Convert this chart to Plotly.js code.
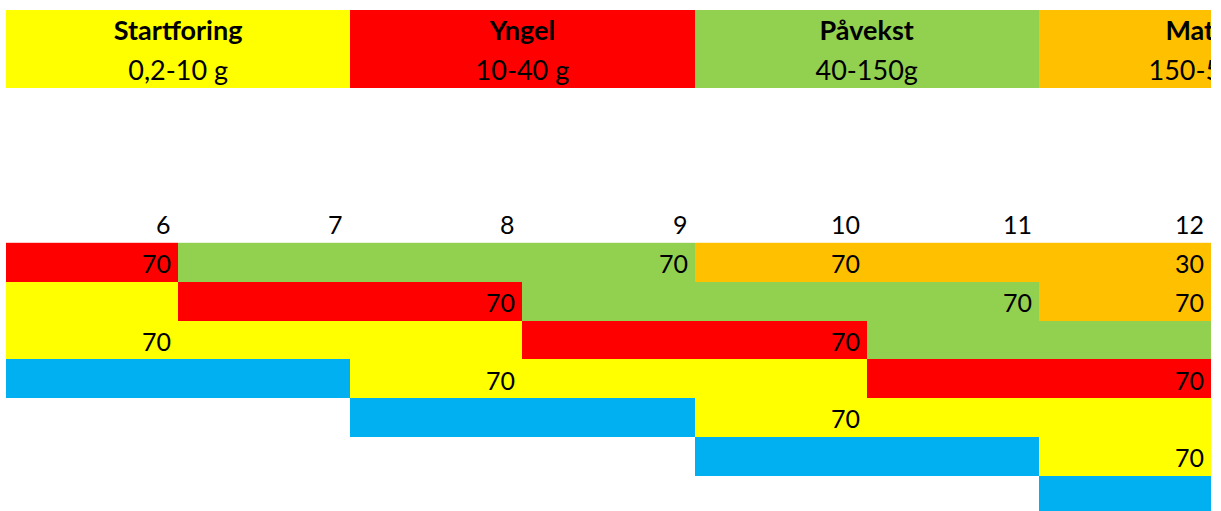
<!DOCTYPE html>
<html><head><meta charset="utf-8">
<script src="https://cdn.plot.ly/plotly-3.0.1.min.js"></script>
<style>html,body{margin:0;padding:0;background:#fff}#chart{width:1221px;height:511px}</style>
</head><body><div id="chart"></div>
<script>
// ---- data ----
const weeks = [6, 7, 8, 9, 10, 11, 12];
const phaseNames = ['Startforing', 'Yngel', 'Påvekst', 'Matfisk'];
const phaseWeights = ['0,2-10 g', '10-40 g', '40-150g', '150-500 g'];
const phaseKeys = ['S', 'Y', 'P', 'M'];
// phase per week in each row ('' = empty, 'E' = blue stage before start feeding)
const gridRow1 = ['Y', 'P', 'P', 'P', 'M', 'M', 'M'];
const gridRow2 = ['S', 'Y', 'Y', 'P', 'P', 'P', 'M'];
const gridRow3 = ['S', 'S', 'S', 'Y', 'Y', 'P', 'P'];
const gridRow4 = ['E', 'E', 'S', 'S', 'S', 'Y', 'Y'];
const gridRow5 = ['', '', 'E', 'E', 'S', 'S', 'S'];
const gridRow6 = ['', '', '', '', 'E', 'E', 'S'];
const gridRow7 = ['', '', '', '', '', '', 'E'];
const valueRow1 = [70, null, null, 70, 70, null, 30];
const valueRow2 = [null, null, 70, null, null, 70, 70];
const valueRow3 = [70, null, null, null, 70, null, null];
const valueRow4 = [null, null, 70, null, null, null, 70];
const valueRow5 = [null, null, null, null, 70, null, null];
const valueRow6 = [null, null, null, null, null, null, 70];
const valueRow7 = [null, null, null, null, null, null, null];

// ---- styles / layout constants ----
const codeOf = {S: 1, Y: 2, P: 3, M: 4, E: 5};
const codeColors = ['#FFFF00', '#FF0000', '#92D050', '#FFC000', '#00B0F0'];
const FONT = 'Lato, "Open Sans", sans-serif';
const ROW_PX = 38.8, TOP_PX = 10, H = 511;
const GRID_TOP = 6;      // sheet row where the grid starts
const WEEK_ROW = 5.5;    // sheet row centre of week numbers
const headerEdges = [0, 2, 4, 6, 8];

const gridRows = [gridRow1, gridRow2, gridRow3, gridRow4, gridRow5, gridRow6, gridRow7];
const valueRows = [valueRow1, valueRow2, valueRow3, valueRow4, valueRow5, valueRow6, valueRow7];

const colorscale = [];
codeColors.forEach((c, i) => { colorscale.push([i / 5, c]); colorscale.push([(i + 1) / 5, c]); });

const xEdges = weeks.map((w, i) => i).concat([weeks.length]);
const yEdges = gridRows.map((r, i) => GRID_TOP + i).concat([GRID_TOP + gridRows.length]);

const gridTrace = {
  type: 'heatmap', x: xEdges, y: yEdges,
  z: gridRows.map(r => r.map(k => k ? codeOf[k] : null)),
  zmin: 0.5, zmax: 5.5, colorscale: colorscale, showscale: false, hoverinfo: 'skip', xgap: 0, ygap: 0
};
const headerTrace = {
  type: 'heatmap', x: headerEdges, y: [0, 2],
  z: [phaseKeys.map(k => codeOf[k])],
  zmin: 0.5, zmax: 5.5, colorscale: colorscale, showscale: false, hoverinfo: 'skip'
};
const headerCenters = phaseKeys.map((k, i) => (headerEdges[i] + headerEdges[i + 1]) / 2);
const headerNameTrace = {
  type: 'scatter', mode: 'text', x: headerCenters, y: phaseKeys.map(() => 0.6),
  text: phaseNames.map(n => '<b>' + n + '</b>'), textposition: 'middle center',
  textfont: {family: FONT, size: 27, color: '#000'}, cliponaxis: true, hoverinfo: 'skip'
};
const headerWeightTrace = {
  type: 'scatter', mode: 'text', x: headerCenters, y: phaseKeys.map(() => 1.64),
  text: phaseWeights, textposition: 'middle center',
  textfont: {family: FONT, size: 27, color: '#000'}, cliponaxis: true, hoverinfo: 'skip'
};

const annotations = [];
weeks.forEach((w, i) => annotations.push({
  x: i + 1, y: WEEK_ROW, xref: 'x', yref: 'y', text: String(w), showarrow: false,
  xanchor: 'right', yanchor: 'middle', xshift: -5, yshift: -1, font: {family: FONT, size: 25, color: '#000'}
}));
valueRows.forEach((row, r) => row.forEach((v, c) => {
  if (v === null) return;
  annotations.push({
    x: c + 1, y: GRID_TOP + r + 0.5, xref: 'x', yref: 'y', text: String(v), showarrow: false,
    xanchor: 'right', yanchor: 'middle', xshift: -5, yshift: -1, font: {family: FONT, size: 25, color: '#000'}
  });
}));

const layout = {
  width: 1221, height: 511,
  margin: {l: 6, r: 10, t: 0, b: 0, pad: 0},
  paper_bgcolor: '#fff', plot_bgcolor: '#fff',
  showlegend: false,
  xaxis: {range: [0, weeks.length], visible: false, fixedrange: true},
  yaxis: {range: [(H - TOP_PX) / ROW_PX, -TOP_PX / ROW_PX], visible: false, fixedrange: true},
  annotations: annotations
};
Plotly.newPlot('chart', [headerTrace, gridTrace, headerNameTrace, headerWeightTrace], layout, {displayModeBar: false, staticPlot: true});
</script></body></html>
